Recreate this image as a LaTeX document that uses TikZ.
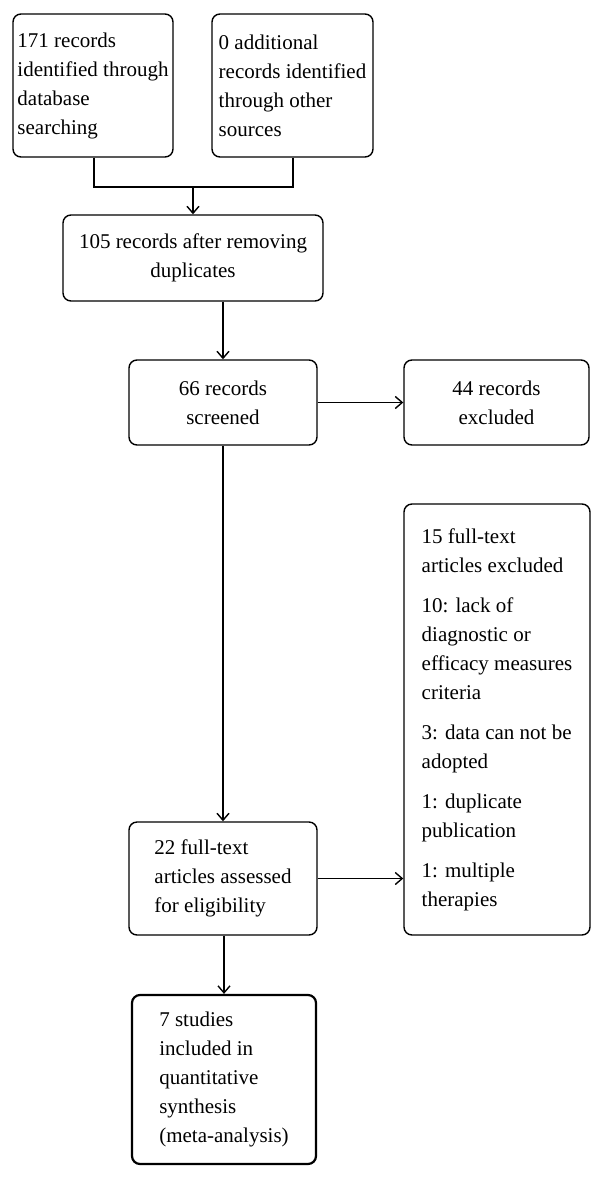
\documentclass[tikz,border=0pt]{standalone}
\usepackage{fontspec}
\setmainfont{Liberation Serif}
\usetikzlibrary{arrows.meta}
\begin{document}
\begin{tikzpicture}[x=1pt,y=-1pt,
  box/.style={draw, rounded corners=8pt, line width=1.4pt, inner sep=0pt,
    font=\fontsize{21}{29}\selectfont},
  flow/.style={line width=1.4pt, -{Straight Barb[length=7pt,width=12pt,line width=1.4pt]}},
  plain/.style={line width=1.4pt}]
\useasboundingbox (0,0) rectangle (605,1179);
\node[box, align=left, minimum width=160pt, minimum height=143pt] (A) at (93,85.5)
  {171 records\\identified through\\database\\searching};
\node[box, align=left, minimum width=161pt, minimum height=143pt] (B) at (292.5,85.5)
  {0 additional\\records identified\\through other\\sources};
\node[box, align=center, minimum width=260pt, minimum height=86pt] (C) at (193,258)
  {105 records after removing\\duplicates};
\node[box, align=center, minimum width=188pt, minimum height=85pt] (D) at (223,402.5)
  {66 records\\screened};
\node[box, align=center, minimum width=185pt, minimum height=85pt] (E) at (496.5,402.5)
  {44 records\\excluded};
\node[box, align=left, minimum width=186pt, minimum height=431pt] (F) at (497,719.5)
  {15 full-text\\articles excluded\\[11pt]10: lack of\\diagnostic or\\efficacy measures\\criteria\\[11pt]3: data can not be\\adopted\\[11pt]1: duplicate\\publication\\[11pt]1: multiple\\therapies};
\node[box, align=left, minimum width=188pt, minimum height=113pt] (G) at (223,878.5)
  {22 full-text\\articles assessed\\for eligibility};
\node[box, align=left, line width=2.2pt, minimum width=184pt, minimum height=169pt] (H) at (224,1079.5)
  {7 studies\\included in\\quantitative\\synthesis\\(meta-analysis)};
\coordinate (J) at (193,187);
\draw[plain] (A.south -| 94,0) |- (J);
\draw[plain] (B.south -| 293,0) |- (J);
\draw[flow] (J) -- (C.north);
\draw[flow] (C.south -| D.north) -- (D.north);
\draw[flow] (D.east) -- (E.west);
\draw[flow] (D.south) -- (G.north);
\draw[flow] (G.east) -- (G.east -| F.west);
\draw[flow] (G.south -| H.north) -- (H.north);
\end{tikzpicture}
\end{document}
